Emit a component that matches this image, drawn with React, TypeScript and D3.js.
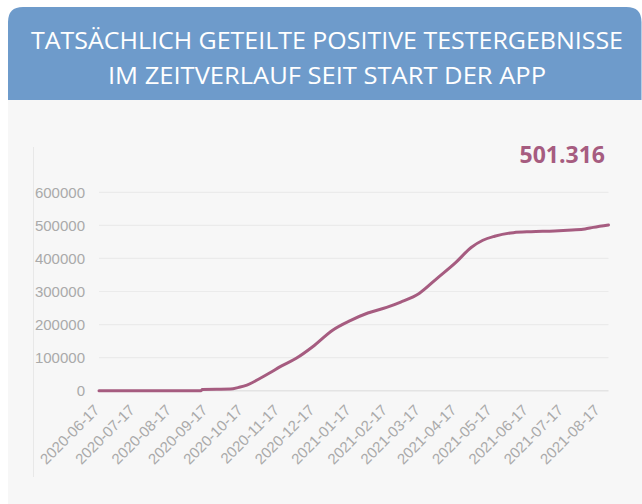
import React from "react";
import * as d3 from "d3";

const titleLines = ["TATSÄCHLICH GETEILTE POSITIVE TESTERGEBNISSE", "IM ZEITVERLAUF SEIT START DER APP"];
const totalLabel = "501.316";

const dates = [
  "2020-06-17", "2020-09-12", "2020-09-13", "2020-10-07", "2020-10-14", "2020-10-21",
  "2020-11-01", "2020-11-10", "2020-11-18", "2020-12-02", "2020-12-16", "2021-01-02",
  "2021-01-17", "2021-02-01", "2021-02-17", "2021-03-01", "2021-03-17", "2021-04-01",
  "2021-04-17", "2021-04-30", "2021-05-10", "2021-05-20", "2021-06-05", "2021-06-20",
  "2021-07-10", "2021-07-25", "2021-08-05", "2021-08-12", "2021-08-25",
];
const values = [
  0, 0, 4000, 5000, 10000, 17000,
  37000, 55000, 72000, 98000, 133000, 183000,
  212000, 235000, 252000, 268000, 295000, 340000,
  388000, 433000, 455000, 467000, 478000, 481000,
  483000, 486000, 489000, 494000, 501316,
];
const yTicks = [0, 100000, 200000, 300000, 400000, 500000, 600000];
const xTickLabels = [
  "2020-06-17", "2020-07-17", "2020-08-17", "2020-09-17", "2020-10-17", "2020-11-17",
  "2020-12-17", "2021-01-17", "2021-02-17", "2021-03-17", "2021-04-17", "2021-05-17",
  "2021-06-17", "2021-07-17", "2021-08-17",
];

const parse = d3.utcParse("%Y-%m-%d");

export default function App() {
  const W = 642, H = 504;
  const x = d3.scaleUtc()
    .domain([parse(dates[0])!, parse(dates[dates.length - 1])!])
    .range([99, 608.5]);
  const y = d3.scaleLinear().domain([0, 600000]).range([390.7, 192.3]);
  const pts = dates.map((d, i) => [x(parse(d)!), y(values[i])] as [number, number]);
  const line = d3.line().curve(d3.curveMonotoneX)(pts) || "";
  const color = "#a65c80";
  const labelFont = "'Liberation Sans', Arial, sans-serif";
  const r = 15;
  const hx = 8, hy = 7, hw = 633.5, hb = 100;
  const headerPath = `M${hx},${hb} L${hx},${hy + r} Q${hx},${hy} ${hx + r},${hy} L${hx + hw - r},${hy} Q${hx + hw},${hy} ${hx + hw},${hy + r} L${hx + hw},${hb} Z`;

  return (
    <svg width={W} height={H} style={{ position: "absolute", left: 0, top: 0, display: "block" }}>
      <rect x={0} y={0} width={W} height={H} fill="#ffffff" />
      <rect x={8} y={100} width={W - 8} height={H - 100} fill="#f7f7f7" />
      <path d={headerPath} fill="#6e9bcb" />
      <text x={327} y={48.5} fill="#ffffff" fontFamily="'Open Sans', sans-serif" fontSize={23} fontWeight={500}
        textAnchor="middle" textLength={592} lengthAdjust="spacingAndGlyphs">{titleLines[0]}</text>
      <text x={327} y={83.5} fill="#ffffff" fontFamily="'Open Sans', sans-serif" fontSize={23} fontWeight={500}
        textAnchor="middle" textLength={438} lengthAdjust="spacingAndGlyphs">{titleLines[1]}</text>

      <line x1={33.5} x2={33.5} y1={147} y2={477} stroke="#e8e8e8" strokeWidth={1} />

      {yTicks.map((t) => (
        <g key={t}>
          <line x1={99} x2={608.5} y1={y(t)} y2={y(t)} stroke={t === 0 ? "#e4e4e4" : "#ebebeb"} strokeWidth={t === 0 ? 1.5 : 1.2} />
          <text x={85} y={y(t)} dy="0.36em" textAnchor="end" fill="#aaaaaa" fontFamily={labelFont} fontSize={15}>{t}</text>
        </g>
      ))}

      {xTickLabels.map((l) => {
        const tx = x(parse(l)!) + 1.5;
        return (
          <text key={l} transform={`translate(${tx},411) rotate(-45)`} textAnchor="end" fill="#aaaaaa"
            fontFamily={labelFont} fontSize={15}>{l}</text>
        );
      })}

      <path d={line} fill="none" stroke={color} strokeWidth={3} strokeLinejoin="round" strokeLinecap="round" />

      <text x={605} y={163} textAnchor="end" fill={color} fontFamily="'Open Sans', sans-serif" fontWeight={700} fontSize={23}>{totalLabel}</text>
    </svg>
  );
}
